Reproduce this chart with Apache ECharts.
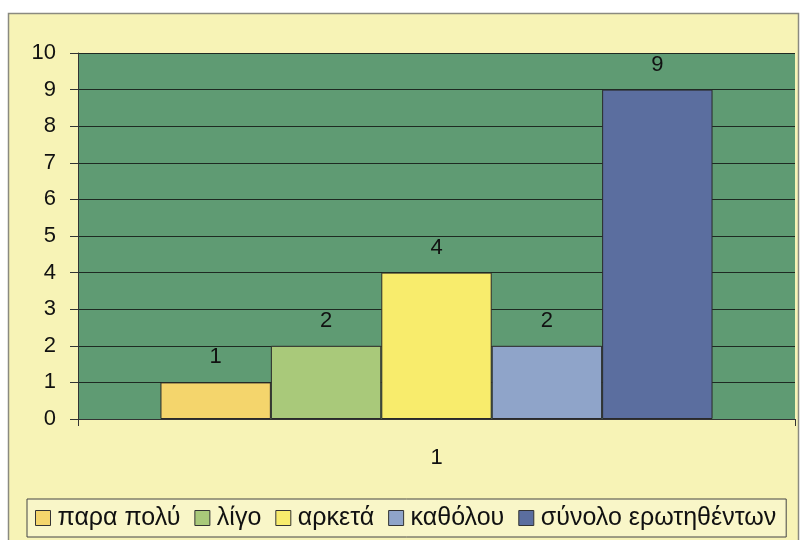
<!DOCTYPE html>
<html><head><meta charset="utf-8">
<script src="https://cdn.jsdelivr.net/npm/echarts@6/dist/echarts.min.js"></script>
<style>html,body{margin:0;padding:0;background:#fff}#c{width:802px;height:540px}</style>
</head><body><div id="c"></div>
<script>
const categories = ['1'];
const seriesNames = ['παρα πολύ', 'λίγο', 'αρκετά', 'καθόλου', 'σύνολο ερωτηθέντων'];
const seriesValues = [[1], [2], [4], [2], [9]];
const yTicks = [0,1,2,3,4,5,6,7,8,9,10];
const colors = ['#f4d56c', '#a9c97a', '#f8ec6c', '#8fa4c9', '#5b6e9f'];

const chart = echarts.init(document.getElementById('c'));
const font = 'Liberation Sans, Arial, sans-serif';
chart.setOption({
  animation: false,
  backgroundColor: '#ffffff',
  graphic: [{
    type: 'rect', z: -10, silent: true,
    shape: {x: 8.5, y: 13.5, width: 790, height: 540},
    style: {fill: '#f7f3b6', stroke: '#8a8a80', lineWidth: 1.5}
  }],
  color: colors,
  textStyle: {fontFamily: font},
  grid: {left: 78, right: 7, top: 53, bottom: 121, show: true, backgroundColor: '#5f9b73', borderWidth: 0},
  legend: {
    bottom: 3, left: 27,
    data: seriesNames,
    icon: 'rect', itemWidth: 15, itemHeight: 15, itemGap: 14,
    padding: [6, 10, 6, 8],
    borderColor: '#444', borderWidth: 1, backgroundColor: '#f9f6c8',
    textStyle: {fontSize: 25, lineHeight: 26, color: '#111', fontFamily: font, padding: [0,0,0,2]},
    itemStyle: {borderColor: '#333', borderWidth: 1}
  },
  xAxis: {
    type: 'category', data: categories,
    axisLine: {show: true, lineStyle: {color: '#333', width: 1}},
    axisTick: {show: true, length: 7, lineStyle: {color: '#333'}},
    axisLabel: {fontSize: 22, color: '#111', margin: 28}
  },
  yAxis: {
    type: 'value', min: 0, max: 10, interval: 1,
    axisLine: {show: true, lineStyle: {color: '#333', width: 1}},
    axisTick: {show: true, length: 8, lineStyle: {color: '#333'}},
    axisLabel: {fontSize: 22, color: '#111', margin: 22, formatter: v => yTicks.includes(v) ? String(v) : ''},
    splitLine: {show: true, lineStyle: {color: '#1e2a22', width: 1.2}}
  },
  series: seriesNames.map((n, i) => ({
    name: n, type: 'bar', data: seriesValues[i],
    barGap: '0%', barCategoryGap: '23%',
    itemStyle: {color: colors[i], borderColor: '#2a2a2a', borderWidth: 1},
    label: {show: true, position: 'top', distance: 14, fontSize: 22, color: '#111', fontFamily: font}
  }))
});
</script></body></html>
